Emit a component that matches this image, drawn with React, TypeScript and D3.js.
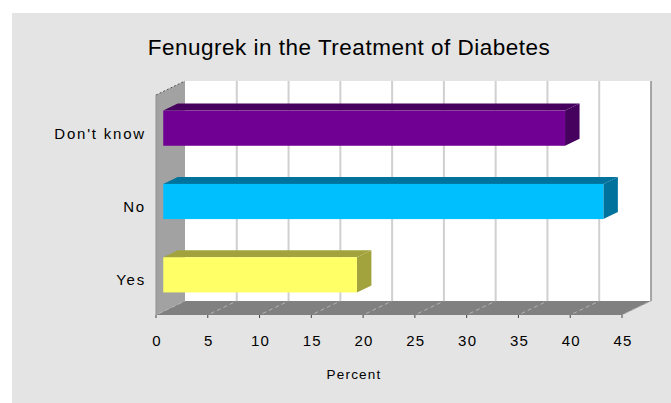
import React, { useEffect, useRef } from 'react';
import * as d3 from 'd3';

const categories = ["Don't know", 'No', 'Yes'];
const percents = [38.8, 42.5, 18.7];
const tickValues = [0, 5, 10, 15, 20, 25, 30, 35, 40, 45];

const frontColors = ['#700094', '#00bfff', '#ffff66'];
const shadeColors = ['#46005e', '#00729c', '#a3a33d'];

export default function App() {
    const chart = useRef<SVGSVGElement>(null);

    useEffect(() => {
        const svg = d3.select(chart.current);
        svg.selectAll('*').remove();

        const W = 671, H = 403;
        // depth of the 3d box
        const DX = 29, DY = 14;
        const x = d3.scaleLinear().domain([0, 45]).range([156, 622]);
        const y = d3.scaleBand().domain(categories).range([95, 315])
            .paddingInner(0.52).paddingOuter(0.26);

        const font = 'Liberation Sans, Arial, sans-serif';

        svg.attr('width', W).attr('height', H);

        // gray panel
        svg.append('rect')
            .attr('x', 12).attr('y', 13)
            .attr('width', W - 12).attr('height', H - 13)
            .attr('fill', '#e4e4e4');

        svg.append('text')
            .attr('x', 349).attr('y', 55)
            .attr('text-anchor', 'middle')
            .attr('font-family', font)
            .attr('font-size', 22.5)
            .attr('letter-spacing', 0.5)
            .attr('fill', '#000')
            .text('Fenugrek in the Treatment of Diabetes');

        const [y0, y1] = y.range();
        const [x0, x1] = x.range();

        // back wall
        svg.append('rect')
            .attr('x', x0 + DX).attr('y', y0 - DY)
            .attr('width', x1 - x0).attr('height', y1 - y0)
            .attr('fill', '#ffffff');

        svg.append('g')
            .selectAll('line')
            .data(tickValues.slice(1, -1))
            .join('line')
            .attr('x1', d => x(d) + DX).attr('x2', d => x(d) + DX)
            .attr('y1', y0 - DY).attr('y2', y1 - DY)
            .attr('stroke', '#d0d0d0')
            .attr('stroke-width', 2);

        svg.append('line')
            .attr('x1', x1 + DX).attr('x2', x1 + DX)
            .attr('y1', y0 - DY).attr('y2', y1 - DY)
            .attr('stroke', '#8c8c8c')
            .attr('stroke-width', 1.5);

        // left wall
        svg.append('polygon')
            .attr('points', [[x0, y0], [x0 + DX, y0 - DY], [x0 + DX, y1 - DY], [x0, y1]].join(' '))
            .attr('fill', '#a2a2a2');
        svg.append('line')
            .attr('x1', x0).attr('x2', x0 + DX)
            .attr('y1', y0).attr('y2', y0 - DY)
            .attr('stroke', '#555')
            .attr('stroke-dasharray', '2,2');
        svg.append('line')
            .attr('x1', x0).attr('x2', x0)
            .attr('y1', y0).attr('y2', y1)
            .attr('stroke', '#909090');

        // floor
        svg.append('polygon')
            .attr('points', [[x0, y1], [x0 + DX, y1 - DY], [x1 + DX, y1 - DY], [x1, y1]].join(' '))
            .attr('fill', '#808080');

        svg.append('g')
            .selectAll('line')
            .data(tickValues)
            .join('line')
            .attr('x1', d => x(d) + 3).attr('x2', d => x(d) + DX)
            .attr('y1', y1 - 1.5).attr('y2', y1 - DY)
            .attr('stroke', '#b4b4b4')
            .attr('stroke-dasharray', '4,3');

        // ticks
        svg.append('g')
            .selectAll('line')
            .data(tickValues)
            .join('line')
            .attr('x1', d => x(d)).attr('x2', d => x(d))
            .attr('y1', y1).attr('y2', y1 + 3)
            .attr('stroke', '#444');

        svg.append('g')
            .selectAll('text')
            .data(tickValues)
            .join('text')
            .attr('x', d => x(d) + 1)
            .attr('y', y1 + 31)
            .attr('text-anchor', 'middle')
            .attr('font-family', font)
            .attr('font-size', 15)
            .attr('letter-spacing', 1.2)
            .attr('fill', '#000')
            .text(d => d);

        svg.append('text')
            .attr('x', 354).attr('y', 379)
            .attr('text-anchor', 'middle')
            .attr('font-family', font)
            .attr('font-size', 13.5)
            .attr('letter-spacing', 1.2)
            .attr('fill', '#000')
            .text('Percent');

        // category labels
        svg.append('g')
            .selectAll('text')
            .data(categories)
            .join('text')
            .attr('x', 146)
            .attr('y', d => (y(d) as number) + y.bandwidth() / 2 + 7)
            .attr('text-anchor', 'end')
            .attr('font-family', font)
            .attr('font-size', 15)
            .attr('letter-spacing', 1.8)
            .attr('fill', '#000')
            .text(d => d);

        // bars, sitting in the middle half of the depth
        const za = 0.25, zb = 0.75;
        const bars = svg.append('g')
            .selectAll('g')
            .data(categories.map((c, i) => ({ c, v: percents[i], i })))
            .join('g');

        bars.append('polygon')
            .attr('points', d => {
                const t = y(d.c) as number;
                return [
                    [x(0) + za * DX, t - za * DY],
                    [x(0) + zb * DX, t - zb * DY],
                    [x(d.v) + zb * DX, t - zb * DY],
                    [x(d.v) + za * DX, t - za * DY]
                ].join(' ');
            })
            .attr('fill', d => shadeColors[d.i]);

        bars.append('polygon')
            .attr('points', d => {
                const t = y(d.c) as number;
                const b = t + y.bandwidth();
                return [
                    [x(d.v) + za * DX, t - za * DY],
                    [x(d.v) + zb * DX, t - zb * DY],
                    [x(d.v) + zb * DX, b - zb * DY],
                    [x(d.v) + za * DX, b - za * DY]
                ].join(' ');
            })
            .attr('fill', d => shadeColors[d.i]);

        bars.append('rect')
            .attr('x', x(0) + za * DX)
            .attr('y', d => (y(d.c) as number) - za * DY)
            .attr('width', d => x(d.v) - x(0))
            .attr('height', y.bandwidth())
            .attr('fill', d => frontColors[d.i]);
    }, []);

    return (
        <div style={{ position: 'absolute', left: 0, top: 0 }}>
            <svg ref={chart}></svg>
        </div>
    );
}
